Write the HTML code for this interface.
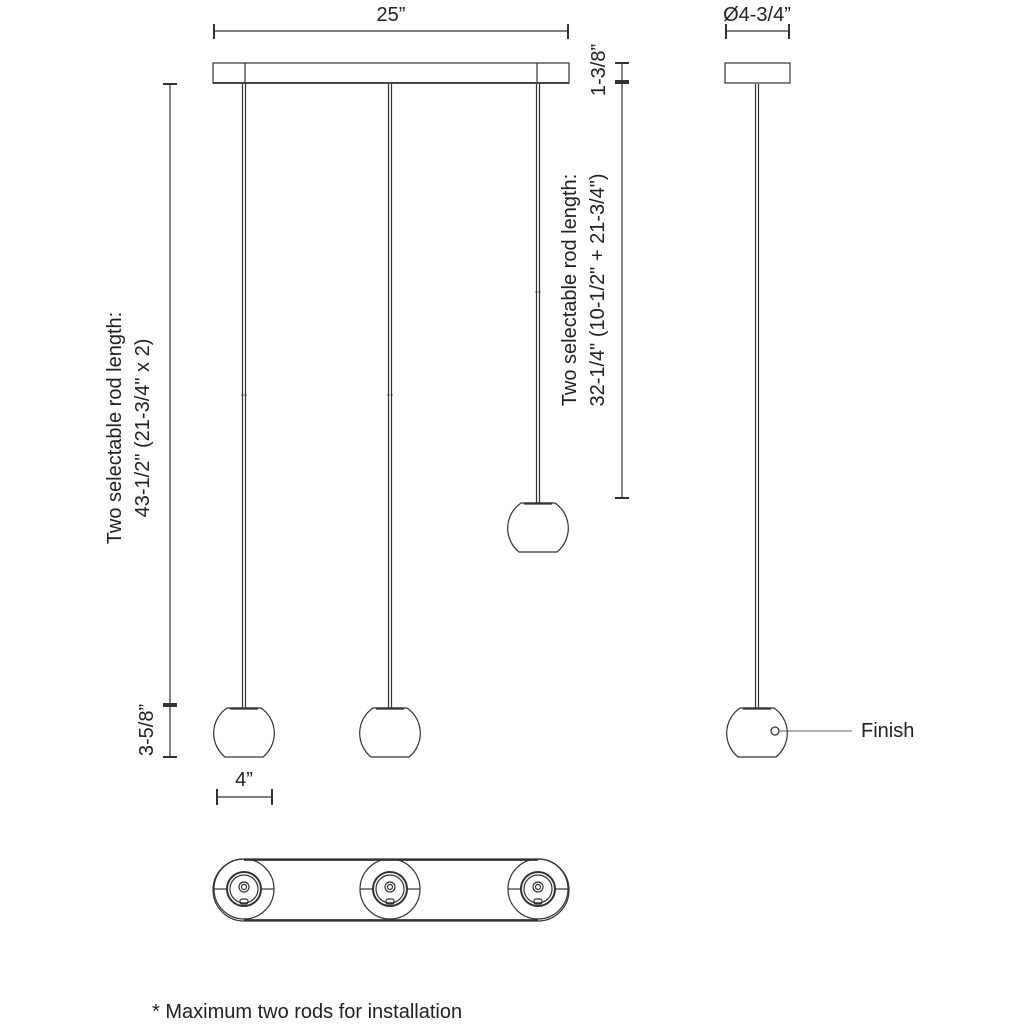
<!DOCTYPE html>
<html><head><meta charset="utf-8"><style>
html,body{margin:0;padding:0;background:#fff;}
svg{display:block}
text{font-family:"Liberation Sans",Arial,sans-serif;fill:#222;}
</style></head><body>
<svg width="1024" height="1024" viewBox="0 0 1024 1024" xmlns="http://www.w3.org/2000/svg">
<defs>
<g id="glb" stroke="#333" fill="none">
<path d="M-17,0 A30.6,30.6 0 0 0 -19,49 L19,49 A30.6,30.6 0 0 0 17,0 Z" stroke-width="1.2"/>
<line x1="-14" y1="0.5" x2="14" y2="0.5" stroke-width="2.2"/>
</g>
</defs>
<g stroke="#333" fill="none" stroke-width="1.2">
<line x1="214" y1="31" x2="568" y2="31"/>
<line x1="214" y1="24" x2="214" y2="39" stroke-width="2"/>
<line x1="568" y1="24" x2="568" y2="39" stroke-width="2"/>
<rect x="213" y="63" width="356" height="20"/>
<line x1="245" y1="63" x2="245" y2="83"/>
<line x1="537" y1="63" x2="537" y2="83"/>
<line x1="213" y1="83" x2="569" y2="83" stroke-width="1.8"/>
<line x1="242.5" y1="84" x2="242.5" y2="708"/><line x1="245.5" y1="84" x2="245.5" y2="708"/>
<line x1="388.5" y1="84" x2="388.5" y2="708"/><line x1="391.5" y1="84" x2="391.5" y2="708"/>
<line x1="536.5" y1="84" x2="536.5" y2="503"/><line x1="539.5" y1="84" x2="539.5" y2="503"/>
<line x1="241" y1="395" x2="247" y2="395" stroke-width="0.6"/>
<line x1="387" y1="395" x2="393" y2="395" stroke-width="0.6"/>
<line x1="535" y1="292" x2="541" y2="292" stroke-width="0.6"/>
<line x1="170" y1="84" x2="170" y2="757"/>
<line x1="163" y1="84" x2="177" y2="84" stroke-width="2"/>
<line x1="163" y1="705" x2="177" y2="705" stroke-width="4"/>
<line x1="163" y1="757" x2="177" y2="757" stroke-width="2"/>
<line x1="622" y1="63" x2="622" y2="498"/>
<line x1="615" y1="63" x2="629" y2="63" stroke-width="2"/>
<line x1="615" y1="82" x2="629" y2="82" stroke-width="4"/>
<line x1="615" y1="498" x2="629" y2="498" stroke-width="2"/>
<line x1="217" y1="797" x2="272" y2="797"/>
<line x1="217" y1="789" x2="217" y2="805" stroke-width="2"/>
<line x1="272" y1="789" x2="272" y2="805" stroke-width="2"/>
<line x1="726" y1="31" x2="789" y2="31"/>
<line x1="726" y1="24" x2="726" y2="39" stroke-width="2"/>
<line x1="789" y1="24" x2="789" y2="39" stroke-width="2"/>
<rect x="725" y="63" width="65" height="20"/>
<line x1="755.5" y1="84" x2="755.5" y2="708"/><line x1="758.5" y1="84" x2="758.5" y2="708"/>
<circle cx="775" cy="731" r="4"/>
<line x1="779" y1="731" x2="852" y2="731" stroke-width="0.8"/>
<rect x="213" y="859" width="356" height="62" rx="31" ry="31"/>
<line x1="244" y1="860" x2="538" y2="860" stroke-width="1.8"/>
<line x1="244" y1="920" x2="538" y2="920" stroke-width="1.8"/>
<g id="b1">
<circle cx="244" cy="889" r="30"/>
<circle cx="244" cy="889" r="17" stroke-width="2"/>
<circle cx="244" cy="889" r="14"/>
<circle cx="244" cy="887" r="5"/>
<circle cx="244" cy="887" r="2.5"/>
<rect x="240" y="899" width="8" height="5" rx="2"/>
<line x1="214" y1="889" x2="227" y2="889"/>
<line x1="261" y1="889" x2="274" y2="889"/>
</g>
<use href="#b1" x="146"/>
<use href="#b1" x="294"/>
</g>
<use href="#glb" x="244" y="708"/>
<use href="#glb" x="390" y="708"/>
<use href="#glb" x="538" y="503"/>
<use href="#glb" x="757" y="708"/>
<g font-size="20">
<text x="391" y="21" text-anchor="middle">25”</text>
<text x="757" y="21" text-anchor="middle">Ø4-3/4”</text>
<text x="244" y="786" text-anchor="middle">4”</text>
<text x="861" y="737">Finish</text>
<text x="152" y="1018">* Maximum two rods for installation</text>
<text transform="translate(153,730) rotate(-90)" text-anchor="middle">3-5/8”</text>
<text transform="translate(605,70) rotate(-90)" text-anchor="middle">1-3/8”</text>
<text transform="translate(121,428) rotate(-90)" text-anchor="middle">Two selectable rod length:</text>
<text transform="translate(149,428) rotate(-90)" text-anchor="middle">43-1/2" (21-3/4" x 2)</text>
<text transform="translate(576,290) rotate(-90)" text-anchor="middle">Two selectable rod length:</text>
<text transform="translate(604,290) rotate(-90)" text-anchor="middle">32-1/4" (10-1/2" + 21-3/4")</text>
</g>
</svg>
</body></html>
